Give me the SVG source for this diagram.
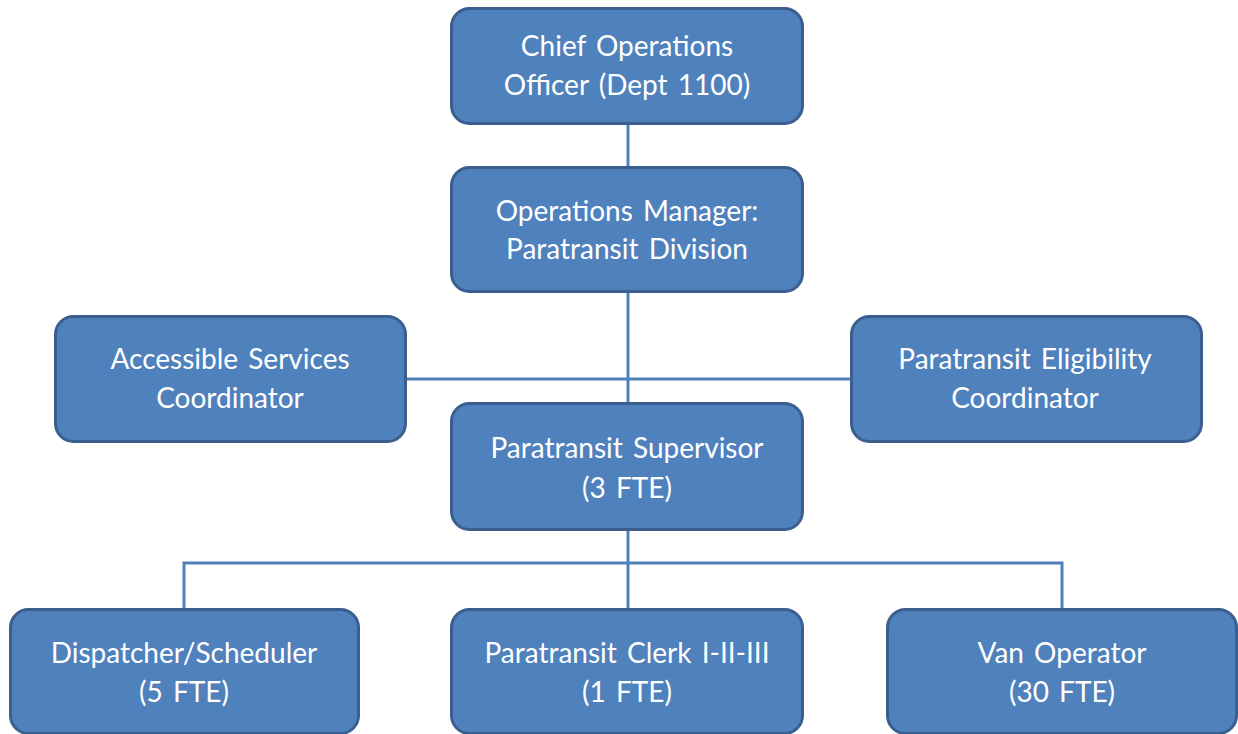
<svg xmlns="http://www.w3.org/2000/svg" width="1238" height="734" viewBox="0 0 1238 734">
  <style>
    .box { fill: #4F81BD; stroke: #3A5F8E; stroke-width: 3; }
    .lbl { fill: #FFFFFF; font-family: Lato, "Open Sans", sans-serif; font-size: 28px; word-spacing: 3px; text-anchor: middle; }
    .wire { fill: none; stroke: #4F81BD; stroke-width: 3; }
  </style>
  <rect width="1238" height="734" fill="#FFFFFF"/>

  <g id="connectors">
    <line class="wire" x1="628" y1="124" x2="628" y2="167"/>
    <line class="wire" x1="628" y1="292" x2="628" y2="403"/>
    <line class="wire" x1="406" y1="379" x2="851" y2="379"/>
    <line class="wire" x1="628" y1="530" x2="628" y2="609"/>
    <polyline class="wire" points="184,609 184,563 1062,563 1062,609"/>
  </g>

  <g id="chief-operations-officer">
    <rect class="box" x="451.5" y="8.5" width="351" height="115" rx="18"/>
    <text class="lbl" x="627" y="56">Chief Operations</text>
    <text class="lbl" x="627" y="95">Officer (Dept 1100)</text>
  </g>

  <g id="operations-manager">
    <rect class="box" x="451.5" y="167.5" width="351" height="124" rx="18"/>
    <text class="lbl" x="627" y="221">Operations Manager:</text>
    <text class="lbl" x="627" y="259">Paratransit Division</text>
  </g>

  <g id="accessible-services-coordinator">
    <rect class="box" x="55.5" y="316.5" width="350" height="125" rx="18"/>
    <text class="lbl" x="230" y="369">Accessible Services</text>
    <text class="lbl" x="230" y="408">Coordinator</text>
  </g>

  <g id="paratransit-eligibility-coordinator">
    <rect class="box" x="851.5" y="316.5" width="350" height="125" rx="18"/>
    <text class="lbl" x="1025" y="369">Paratransit Eligibility</text>
    <text class="lbl" x="1025" y="408">Coordinator</text>
  </g>

  <g id="paratransit-supervisor">
    <rect class="box" x="451.5" y="403.5" width="351" height="126" rx="18"/>
    <text class="lbl" x="627" y="458">Paratransit Supervisor</text>
    <text class="lbl" x="627" y="498">(3 FTE)</text>
  </g>

  <g id="dispatcher-scheduler">
    <rect class="box" x="10.5" y="609.5" width="348" height="124" rx="18"/>
    <text class="lbl" x="184" y="663">Dispatcher/Scheduler</text>
    <text class="lbl" x="184" y="702">(5 FTE)</text>
  </g>

  <g id="paratransit-clerk">
    <rect class="box" x="451.5" y="609.5" width="351" height="124" rx="18"/>
    <text class="lbl" x="627" y="663">Paratransit Clerk I-II-III</text>
    <text class="lbl" x="627" y="702">(1 FTE)</text>
  </g>

  <g id="van-operator">
    <rect class="box" x="887.5" y="609.5" width="349" height="124" rx="18"/>
    <text class="lbl" x="1062" y="663">Van Operator</text>
    <text class="lbl" x="1062" y="702">(30 FTE)</text>
  </g>
</svg>
